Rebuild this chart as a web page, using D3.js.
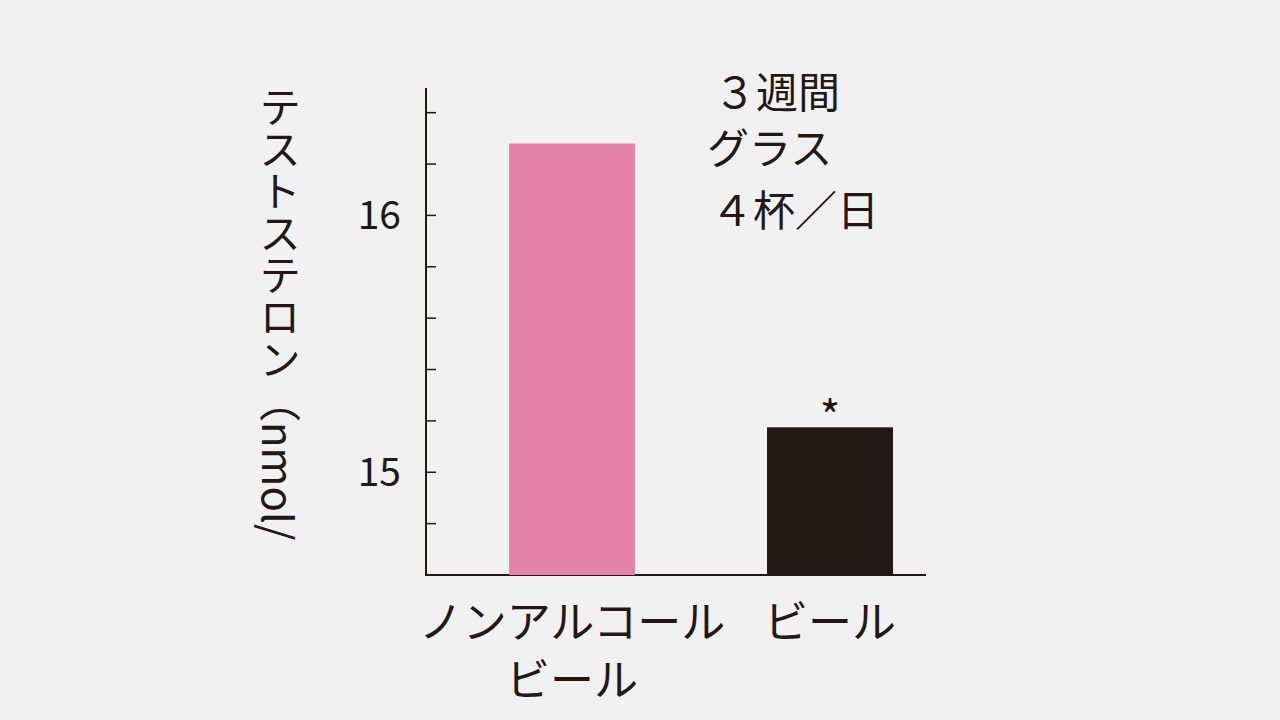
<!DOCTYPE html>
<html><head><meta charset="utf-8">
<script src="https://cdn.jsdelivr.net/npm/d3@7"></script>
<style>body{margin:0;background:#f1f1f1}svg{display:block}</style>
</head><body>
<script>
// values
var categories = [['ノンアルコール', 'ビール'], ['ビール']];
var values = [16.28, 15.175];
var colors = ['#e583a7', '#231815'];
var tickValues = [14.8, 15, 15.2, 15.4, 15.6, 15.8, 16, 16.2, 16.4];
var tickLabels = {15: '15', 16: '16'};
var ink = '#231815';
var font = '"Noto Sans CJK JP", "Noto Sans", sans-serif';

var svg = d3.select('body').append('svg').attr('width', 1280).attr('height', 720);

var y = d3.scaleLinear().domain([14.6, 16.5]).range([575, 87]);
var x = d3.scalePoint().domain([0, 1]).range([572, 830]);
var barW = 126;

// axis line + inward ticks
svg.append('line').attr('x1', 426).attr('x2', 426).attr('y1', 88).attr('y2', 575)
  .attr('stroke', ink).attr('stroke-width', 2);
svg.append('line').attr('x1', 425).attr('x2', 926).attr('y1', 575).attr('y2', 575)
  .attr('stroke', ink).attr('stroke-width', 2);
svg.selectAll('.tk').data(tickValues).enter().append('line')
  .attr('x1', 426).attr('x2', 436).attr('y1', d => y(d)).attr('y2', d => y(d))
  .attr('stroke', ink).attr('stroke-width', 1.5);
svg.selectAll('.tl').data(Object.keys(tickLabels).map(Number)).enter().append('text')
  .attr('x', 401).attr('y', d => y(d) + 14).attr('text-anchor', 'end')
  .attr('font-family', font).attr('font-size', 39).attr('fill', ink)
  .text(d => tickLabels[d]);

// bars
svg.selectAll('.bar').data(values).enter().append('rect')
  .attr('x', (d, i) => x(i) - barW / 2).attr('width', barW)
  .attr('y', d => y(d)).attr('height', d => 575 - y(d))
  .attr('fill', (d, i) => colors[i]);

// asterisk
svg.append('text').attr('x', x(1)).attr('y', y(values[1]) + 6)
  .attr('text-anchor', 'middle').attr('font-family', font).attr('font-size', 44)
  .attr('fill', ink).text('*');

// category labels
categories.forEach(function (lines, i) {
  lines.forEach(function (t, j) {
    svg.append('text').attr('x', x(i)).attr('y', 638 + j * 58)
      .attr('text-anchor', 'middle').attr('font-family', font).attr('font-size', 44)
      .attr('fill', ink).text(t);
  });
});

// y label (vertical writing)
svg.append('text').attr('x', 280).attr('y', 86)
  .attr('font-family', font).attr('font-size', 42).attr('fill', ink)
  .style('writing-mode', 'vertical-rl')
  .text('テストステロン（nmol/');

// annotation
var note = [['３週間', 714, 108], ['グラス', 707, 164], ['４杯／日', 711, 226]];
note.forEach(function (n) {
  svg.append('text').attr('x', n[1]).attr('y', n[2])
    .attr('font-family', font).attr('font-size', 42).attr('fill', ink).text(n[0]);
});
</script>
</body></html>
